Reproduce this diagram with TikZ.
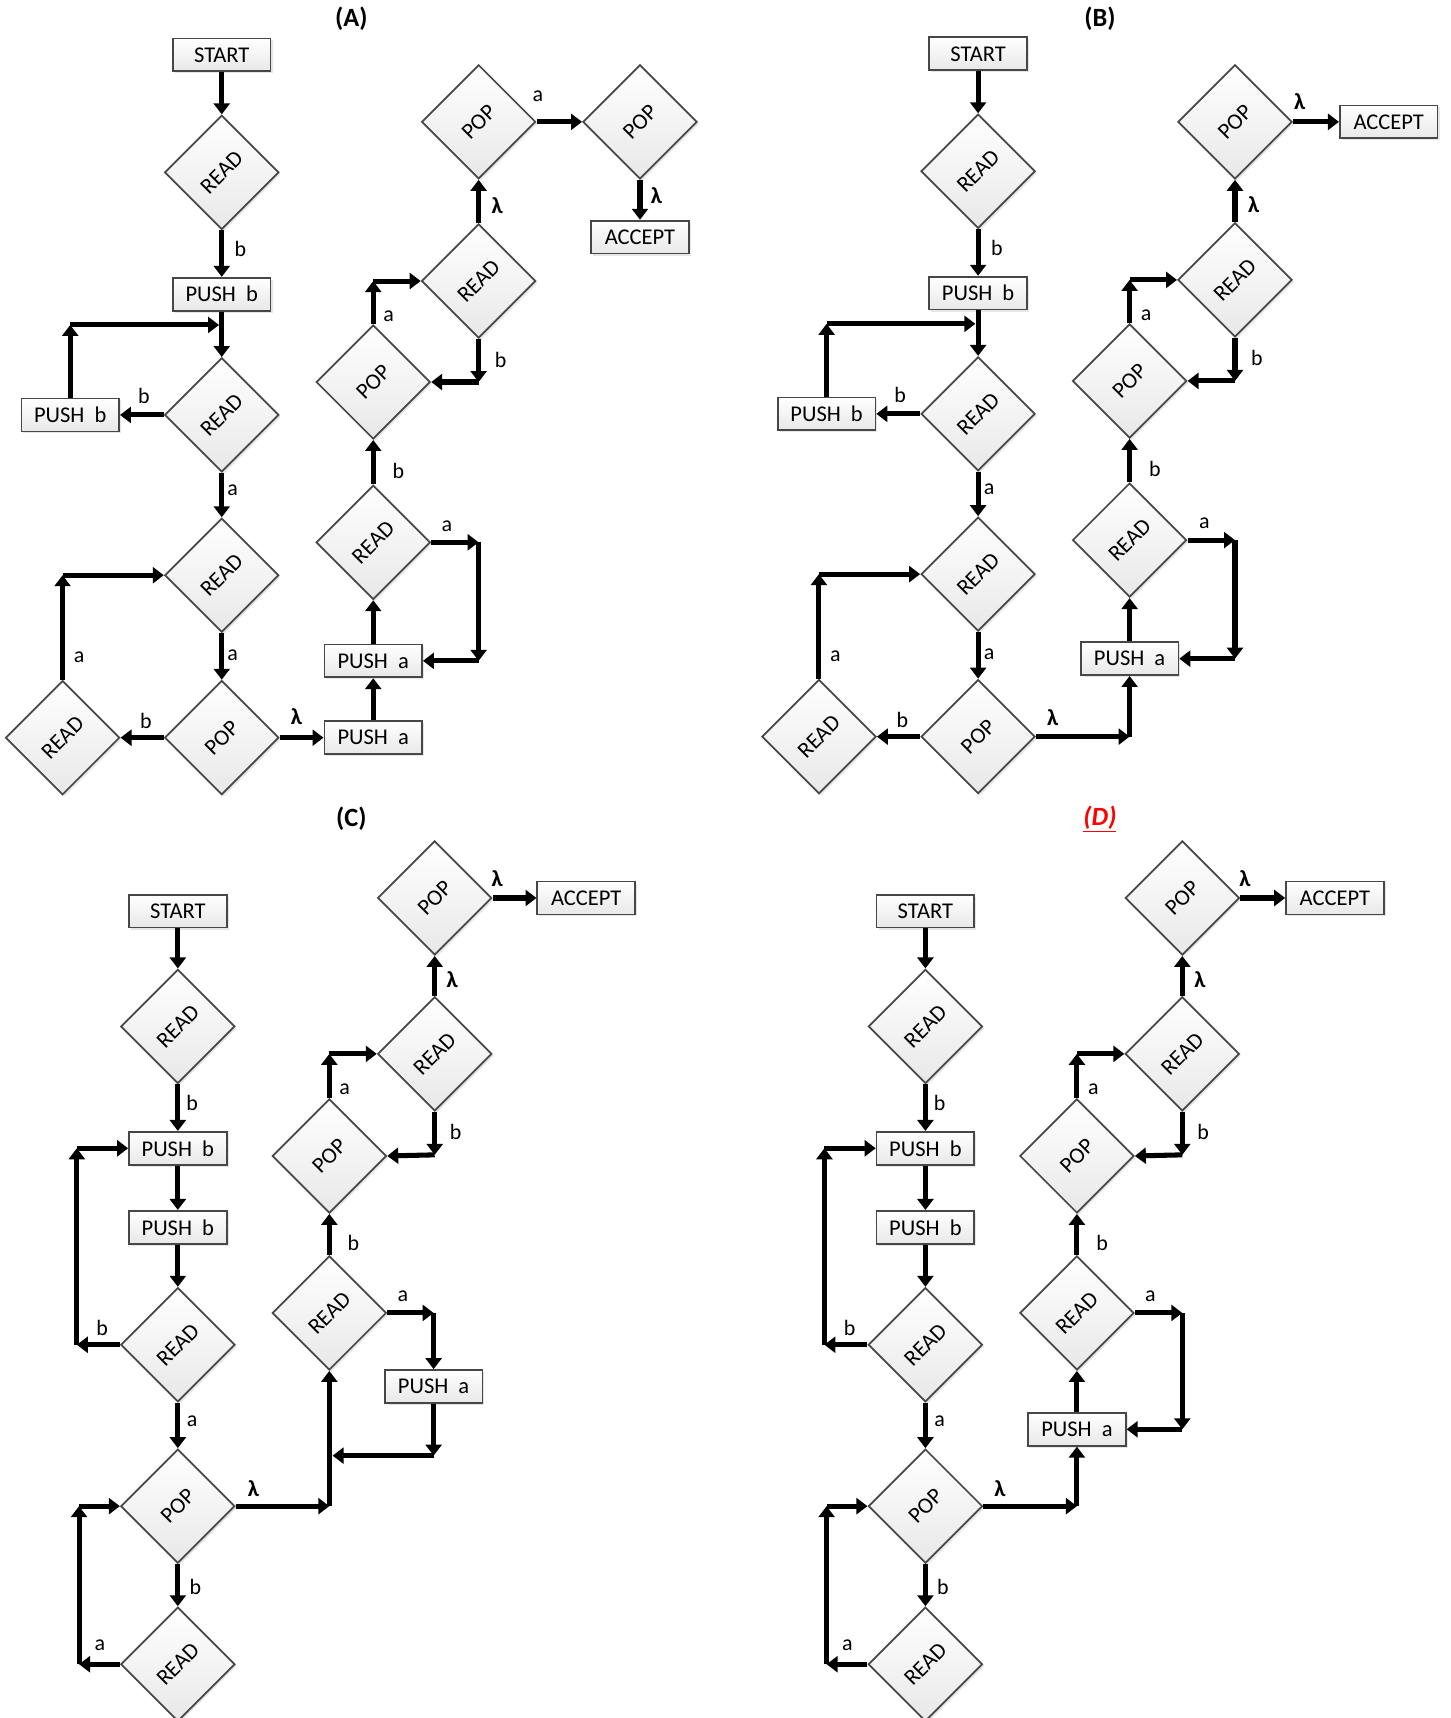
\documentclass[tikz,border=0pt]{standalone}
\usepackage{fontspec}
\usepackage{graphicx}
\setmainfont{Carlito}
\usetikzlibrary{arrows.meta,shapes.geometric,shadows}
\newcommand\dtext[1]{\rotatebox{45}{#1}}
\newcommand\pgap{\hspace{0.45em}}
% left chain of panels A and B
\newcommand\chainAB[3]{%
\begin{scope}[shift={(#2,#3)}]
  \node[box] (#1st) at (202,50) {START};
  \node[dia] (#1r1) at (202,157) {\dtext{READ}};
  \node[box] (#1pb) at (202,268) {PUSH\pgap b};
  \node[dia] (#1r2) at (202,378) {\dtext{READ}};
  \node[box] (#1pbl) at (64,378) {PUSH\pgap b};
  \node[dia] (#1r3) at (202,524) {\dtext{READ}};
  \node[dia] (#1pop) at (202,672) {\dtext{POP}};
  \node[dia] (#1r4) at (57,672) {\dtext{READ}};
  \coordinate (#1c1) at (64,296);
  \coordinate (#1e1) at (199.5,296);
  \coordinate (#1c2) at (57,524);
  \draw[arr] (#1st.south) -- (#1r1.north);
  \draw[arr] (#1r1.south) -- (#1pb.north);
  \draw[arr] (#1pb.south) -- (#1r2.north);
  \draw[arr] (#1r2.west) -- (#1pbl.east);
  \draw[arr] (#1pbl.north) -- (#1c1);
  \draw[arr] (#1c1) -- (#1e1);
  \draw[arr] (#1r2.south) -- (#1r3.north);
  \draw[arr] (#1r3.south) -- (#1pop.north);
  \draw[arr] (#1pop.west) -- (#1r4.east);
  \draw[arr] (#1r4.north) -- (#1c2);
  \draw[arr] (#1c2) -- (#1r3.west);
  \node[lbl] (#1l1) at (219,227) {b};
  \node[lbl] (#1l2) at (131,361) {b};
  \node[lbl] (#1l3) at (212,447) {a};
  \node[lbl] (#1l4) at (212,597) {a};
  \node[lbl] (#1l5) at (133,657) {b};
  \node[lbl] (#1l6) at (72,599) {a};
\end{scope}}
% left chain of panels C and D
\newcommand\chainCD[2]{%
\begin{scope}[shift={(#2,0)}]
  \node[box] (#1st) at (162,830) {START};
  \node[dia] (#1r1) at (162,935) {\dtext{READ}};
  \node[box] (#1pb) at (162,1046) {PUSH\pgap b};
  \node[box] (#1pb2) at (162,1118) {PUSH\pgap b};
  \node[dia] (#1r2) at (162,1225) {\dtext{READ}};
  \node[dia] (#1pop) at (162,1372) {\dtext{POP}};
  \node[dia] (#1r3) at (162,1516) {\dtext{READ}};
  \coordinate (#1c1) at (70,1225);
  \coordinate (#1c2) at (70,1046);
  \coordinate (#1c3) at (72,1516);
  \coordinate (#1c4) at (72,1372);
  \draw[arr] (#1st.south) -- (#1r1.north);
  \draw[arr] (#1r1.south) -- (#1pb.north);
  \draw[arr] (#1pb.south) -- (#1pb2.north);
  \draw[arr] (#1pb2.south) -- (#1r2.north);
  \draw[arr] (#1r2.west) -- (#1c1);
  \draw[arr] (#1c1) -- (#1c2);
  \draw[arr] (#1c2) -- (#1pb.west);
  \draw[arr] (#1r2.south) -- (#1pop.north);
  \draw[arr] (#1pop.south) -- (#1r3.north);
  \draw[arr] (#1r3.west) -- (#1c3);
  \draw[arr] (#1c3) -- (#1c4);
  \draw[arr] (#1c4) -- (#1pop.west);
  \node[lbl] (#1l1) at (175,1005) {b};
  \node[lbl] (#1l2) at (93,1210) {b};
  \node[lbl] (#1l3) at (175,1295) {a};
  \node[lbl] (#1l4) at (178,1446) {b};
  \node[lbl] (#1l5) at (91,1499) {a};
\end{scope}}
\begin{document}
\begin{tikzpicture}[x=1pt,y=-1pt,
  every node/.style={font=\fontsize{20.5}{23}\selectfont},
  shade/.style={top color=white, bottom color=black!9,
    drop shadow={shadow xshift=1.8pt,shadow yshift=-1.8pt,opacity=0.2}},
  box/.style={rectangle, draw=black!72, line width=1.6pt, shade,
    minimum width=89pt, minimum height=30pt, inner sep=0pt},
  dia/.style={diamond, aspect=1, draw=black!72, line width=1.6pt, shade,
    minimum width=104pt, minimum height=104pt, inner sep=0pt},
  arr/.style={line width=4.6pt, -{Triangle[width=14.5pt,length=10pt]}},
  lbl/.style={inner sep=0pt, font=\fontsize{20}{22}\selectfont},
  lam/.style={inner sep=0pt, font=\fontsize{21}{22}\selectfont\bfseries},
  ttl/.style={inner sep=0pt, font=\fontsize{24}{28}\selectfont\bfseries}]
\useasboundingbox (0,0) rectangle (1321,1565);

% ---------- titles ----------
\node[ttl] (tA) at (320,17) {(A)};
\node[ttl] (tB) at (1002,17) {(B)};
\node[ttl] (tC) at (320,746) {(C)};
\node[ttl, text=red] (tD) at (1002,746) {\underline{\itshape(D)}};

% ---------- panel A ----------
\chainAB{A-}{0}{0}
\node[box] (A-pa1) at (340,672) {PUSH\pgap a};
\node[box] (A-pa2) at (340,602) {PUSH\pgap a};
\node[dia] (A-r5) at (340,494) {\dtext{READ}};
\node[dia] (A-pop2) at (340,348) {\dtext{POP}};
\node[dia] (A-r6) at (436,256) {\dtext{READ}};
\node[dia] (A-pop3) at (436,111) {\dtext{POP}};
\node[dia] (A-pop4) at (583,111) {\dtext{POP}};
\node[box] (A-acc) at (583,216) {ACCEPT};
\coordinate (A-c3) at (436,494);
\coordinate (A-c4) at (436,602);
\coordinate (A-c5) at (340,256);
\coordinate (A-c6) at (436,348);
\draw[arr] (A-pop.east) -- (A-pa1.west);
\draw[arr] (A-pa1.north) -- (A-pa2.south);
\draw[arr] (A-pa2.north) -- (A-r5.south);
\draw[arr] (A-r5.east) -- (A-c3);
\draw[arr] (A-c3) -- (A-c4);
\draw[arr] (A-c4) -- (A-pa2.east);
\draw[arr] (A-r5.north) -- (A-pop2.south);
\draw[arr] (A-pop2.north) -- (A-c5);
\draw[arr] (A-c5) -- (A-r6.west);
\draw[arr] (A-r6.south) -- (A-c6);
\draw[arr] (A-c6) -- (A-pop2.east);
\draw[arr] (A-r6.north) -- (A-pop3.south);
\draw[arr] (A-pop3.east) -- (A-pop4.west);
\draw[arr] (A-pop4.south) -- (A-acc.north);
\node[lam] (A-m1) at (270,653) {λ};
\node[lbl] (A-m2) at (407,479) {a};
\node[lbl] (A-m3) at (363,429) {b};
\node[lbl] (A-m4) at (354,288) {a};
\node[lbl] (A-m5) at (456,328) {b};
\node[lam] (A-m6) at (453,187) {λ};
\node[lbl] (A-m7) at (490,88) {a};
\node[lam] (A-m8) at (598,178) {λ};

% ---------- panel B ----------
\chainAB{B-}{689}{-1}
\node[box] (B-pa) at (1029,600) {PUSH\pgap a};
\node[dia] (B-r5) at (1029,492) {\dtext{READ}};
\node[dia] (B-pop2) at (1029,347) {\dtext{POP}};
\node[dia] (B-r6) at (1125,255) {\dtext{READ}};
\node[dia] (B-pop3) at (1125,111) {\dtext{POP}};
\node[box] (B-acc) at (1265,111) {ACCEPT};
\coordinate (B-c0) at (1029,671);
\coordinate (B-c3) at (1125,492);
\coordinate (B-c4) at (1125,600);
\coordinate (B-c5) at (1029,255);
\coordinate (B-c6) at (1125,347);
\draw[arr] (B-pop.east) -- (B-c0);
\draw[arr] (B-c0) -- (B-pa.south);
\draw[arr] (B-pa.north) -- (B-r5.south);
\draw[arr] (B-r5.east) -- (B-c3);
\draw[arr] (B-c3) -- (B-c4);
\draw[arr] (B-c4) -- (B-pa.east);
\draw[arr] (B-r5.north) -- (B-pop2.south);
\draw[arr] (B-pop2.north) -- (B-c5);
\draw[arr] (B-c5) -- (B-r6.west);
\draw[arr] (B-r6.south) -- (B-c6);
\draw[arr] (B-c6) -- (B-pop2.east);
\draw[arr] (B-r6.north) -- (B-pop3.south);
\draw[arr] (B-pop3.east) -- (B-acc.west);
\node[lam] (B-m1) at (959,654) {λ};
\node[lbl] (B-m2) at (1097,477) {a};
\node[lbl] (B-m3) at (1052,427) {b};
\node[lbl] (B-m4) at (1044,287) {a};
\node[lbl] (B-m5) at (1145,326) {b};
\node[lam] (B-m6) at (1142,186) {λ};
\node[lam] (B-m7) at (1184,93) {λ};

% ---------- panel C ----------
\chainCD{C-}{0}
\node[dia] (C-r4) at (300,1196) {\dtext{READ}};
\node[box] (C-pa) at (395,1263) {PUSH\pgap a};
\node[dia] (C-pop2) at (300,1053) {\dtext{POP}};
\node[dia] (C-r5) at (396,960) {\dtext{READ}};
\node[dia] (C-pop3) at (396,818) {\dtext{POP}};
\node[box] (C-acc) at (534,818) {ACCEPT};
\coordinate (C-c5) at (300,1372);
\coordinate (C-c6) at (395,1196);
\coordinate (C-c7) at (395,1326);
\coordinate (C-e7) at (303,1326);
\coordinate (C-c8) at (300,960);
\coordinate (C-c9) at (396,1052);
\draw[arr] (C-pop.east) -- (C-c5);
\draw[arr] (C-c5) -- (C-r4.south);
\draw[arr] (C-r4.east) -- (C-c6);
\draw[arr] (C-c6) -- (C-pa.north);
\draw[arr] (C-pa.south) -- (C-c7);
\draw[arr] (C-c7) -- (C-e7);
\draw[arr] (C-r4.north) -- (C-pop2.south);
\draw[arr] (C-pop2.north) -- (C-c8);
\draw[arr] (C-c8) -- (C-r5.west);
\draw[arr] (C-r5.south) -- (C-c9);
\draw[arr] (C-c9) -- (C-pop2.east);
\draw[arr] (C-r5.north) -- (C-pop3.south);
\draw[arr] (C-pop3.east) -- (C-acc.west);
\node[lam] (C-m1) at (231,1356) {λ};
\node[lbl] (C-m2) at (367,1181) {a};
\node[lbl] (C-m3) at (322,1132) {b};
\node[lbl] (C-m4) at (314,992) {a};
\node[lbl] (C-m5) at (415,1031) {b};
\node[lam] (C-m6) at (412,892) {λ};
\node[lam] (C-m7) at (453,800) {λ};

% ---------- panel D ----------
\chainCD{D-}{681}
\node[dia] (D-r4) at (981,1196) {\dtext{READ}};
\node[box] (D-pa) at (981,1302) {PUSH\pgap a};
\node[dia] (D-pop2) at (981,1053) {\dtext{POP}};
\node[dia] (D-r5) at (1077,960) {\dtext{READ}};
\node[dia] (D-pop3) at (1077,818) {\dtext{POP}};
\node[box] (D-acc) at (1216,818) {ACCEPT};
\coordinate (D-c5) at (981,1372);
\coordinate (D-c6) at (1077,1196);
\coordinate (D-c7) at (1077,1302);
\coordinate (D-c8) at (981,960);
\coordinate (D-c9) at (1077,1052);
\draw[arr] (D-pop.east) -- (D-c5);
\draw[arr] (D-c5) -- (D-pa.south);
\draw[arr] (D-pa.north) -- (D-r4.south);
\draw[arr] (D-r4.east) -- (D-c6);
\draw[arr] (D-c6) -- (D-c7);
\draw[arr] (D-c7) -- (D-pa.east);
\draw[arr] (D-r4.north) -- (D-pop2.south);
\draw[arr] (D-pop2.north) -- (D-c8);
\draw[arr] (D-c8) -- (D-r5.west);
\draw[arr] (D-r5.south) -- (D-c9);
\draw[arr] (D-c9) -- (D-pop2.east);
\draw[arr] (D-r5.north) -- (D-pop3.south);
\draw[arr] (D-pop3.east) -- (D-acc.west);
\node[lam] (D-m1) at (911,1356) {λ};
\node[lbl] (D-m2) at (1048,1181) {a};
\node[lbl] (D-m3) at (1004,1132) {b};
\node[lbl] (D-m4) at (996,992) {a};
\node[lbl] (D-m5) at (1096,1031) {b};
\node[lam] (D-m6) at (1093,892) {λ};
\node[lam] (D-m7) at (1134,800) {λ};
\end{tikzpicture}
\end{document}
